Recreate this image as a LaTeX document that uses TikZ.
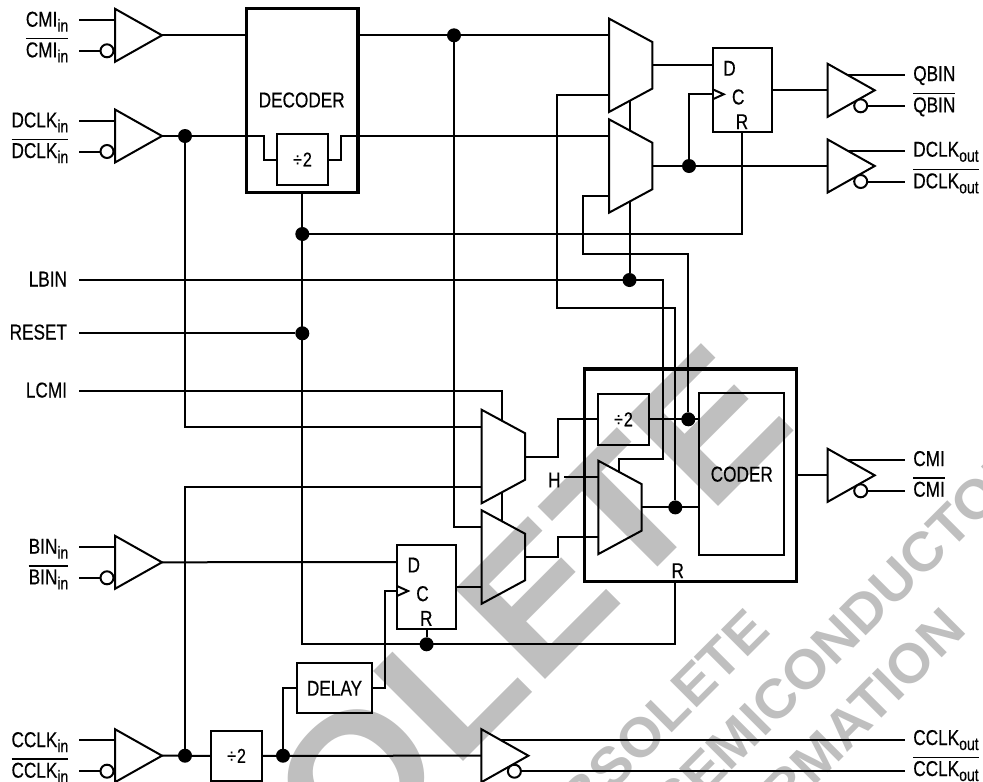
\documentclass[tikz,border=0pt]{standalone}
\usepackage{fontspec}
\setmainfont[FakeStretch=0.8,FakeBold=0.4]{Liberation Sans}
\newfontfamily\markfont[FakeStretch=1.03]{Liberation Sans}
\usetikzlibrary{calc,positioning}
\definecolor{stamp-color}{gray}{0.75}
\newcommand{\subtxt}[2]{#1\raisebox{-5pt}{\fontsize{17.5}{17.5}\selectfont #2}}
\newcommand{\bartxt}[1]{\vbox{\hrule height 1.2pt \kern 3pt \hbox{#1}}}
\newcommand{\divtxt}{\fontsize{20}{20}\selectfont ÷\kern1pt 2}
\tikzset{
  wire/.style={line width=2pt},
  box/.style 2 args={draw, rectangle, line width=2pt, inner sep=0, outer sep=0,
    minimum width=#1, minimum height=#2},
  thick-box/.style 2 args={box={#1}{#2}, line width=3.5pt},
  dot/.style={circle, fill=black, inner sep=0, outer sep=0, minimum size=14pt},
  txt/.style={inner sep=0, outer sep=0},
  in-label/.style={txt, anchor=base east},
  out-label/.style={txt, anchor=base west},
  stamp-big/.style={txt, anchor=base east, rotate=45, text=stamp-color,
    font=\markfont\bfseries\fontsize{185}{185}\selectfont},
  stamp-small/.style={stamp-big, font=\markfont\bfseries\fontsize{55}{55}\selectfont}
}
\tikzset{
  inbuf/.pic={
    \draw[wire] (0,-26.5) -- (47,0) -- (0,26.5) -- cycle;
    \coordinate (-tip) at (47,0);
    \draw[wire] (-36,-15.5) -- (0,-15.5);
    \draw[wire] (-36,15.5) -- (-14.5,15.5);
    \draw[wire] (-8,15.5) circle (6.5);
  },
  outbuf/.pic={
    \draw[wire] (0,-26.5) -- (47,0) -- (0,26.5) -- cycle;
    \draw[wire] (20,-15.5) -- (\outlen,-15.5);
    \draw[wire] (39.5,15.5) -- (\outlen,15.5);
    \draw[wire, fill=white] (33,15.5) circle (6.5);
  },
  mux/.pic={
    \draw[wire] (0,-46.7) -- (43.3,-23.3) -- (43.3,23.3) -- (0,46.7) -- cycle;
    \coordinate (-a) at (0,-30);
    \coordinate (-b) at (0,30);
    \coordinate (-y) at (43.3,0);
    \coordinate (-n) at (20.5,-35.6);
    \coordinate (-s) at (20.5,35.6);
  },
  dff/.pic={
    \node[box={59}{83.5}, anchor=north west] (-box) at (0,0) {};
    \draw[wire] (0,41.0) -- (11,46) -- (0,51);
    \node[txt] (-dl) at (16.8,20) {D};
    \node[txt] (-cl) at (25.5,48.7) {C};
    \node[txt] (-rl) at (29.3,73.4) {R};
    \coordinate (-d) at (0,17);
    \coordinate (-c) at (0,46);
    \coordinate (-q) at (59,42);
    \coordinate (-r) at (29.6,83.5);
  }
}
\begin{document}
\begin{tikzpicture}[x=1pt, y=-1pt, font=\fontsize{21.5}{21.5}\selectfont]
  \clip (0,0) rectangle (983,782);
  % grey stamp
  \node[stamp-big] (stamp) at (799,426) {OBSOLETE};
  \node[stamp-small] (stampa) at (772,633) {OBSOLETE};
  \node[stamp-small] (stampb) at (1034,468) {SEMICONDUCTOR};
  \node[stamp-small] (stampc) at (968,632) {INFORMATION};
  % buffers
  \foreach \nm/\y/\txt in {cmi/35.3/CMI, dclk/136/DCLK, bin/562.3/BIN, cclk/755.7/CCLK} {
    \pic (\nm) at (115,\y) {inbuf};
    \node[in-label] (\nm-p) at (68.3,\y-8.6) {\subtxt{\txt}{in}};
    \node[in-label] (\nm-n) at (68.3,\y+22) {\bartxt{\subtxt{\txt}{in}}};
  }
  \foreach \nm/\x/\y/\outlen in {qout/827.7/90.3/77.3, dclkout/827.7/166/77.3,
      cmiout/827.7/475.3/77.3, ccout/481.4/755.7/423.6} {
    \pic (\nm) at (\x,\y) {outbuf};
    \coordinate (\nm-in) at (\x,\y);
  }
  \node[out-label] (qp) at (913.3,81) {QBIN};
  \node[out-label] (qn) at (913.3,112.3) {\bartxt{QBIN}};
  \node[out-label] (dp) at (913.3,156.7) {\subtxt{DCLK}{out}};
  \node[out-label] (dn) at (913.3,188.3) {\bartxt{\subtxt{DCLK}{out}}};
  \node[out-label] (cp) at (913.3,466) {CMI};
  \node[out-label] (cn) at (913.3,496.7) {\bartxt{CMI}};
  \node[out-label] (ccp) at (913.3,745) {\subtxt{CCLK}{out}};
  \node[out-label] (ccn) at (913.3,776) {\bartxt{\subtxt{CCLK}{out}}};
  % blocks
  \node[thick-box={111.3}{184.2}] (decoder) at (302.3,100.6) {};
  \node[txt] (declabel) at (301.7,100) {DECODER};
  \node[box={51}{51}] (div1) at (302.5,159.5) {\divtxt};
  \node[thick-box={212}{212.7}] (coderbox) at (690.3,475.3) {};
  \node[box={85}{161.7}] (coder) at (741.8,474.2) {CODER};
  \node[box={50.4}{50.7}] (div2) at (623.5,419.3) {\divtxt};
  \node[box={50.4}{50}] (div3) at (236.6,755.8) {\divtxt};
  \node[box={75}{50}] (delay) at (334.5,688.3) {DELAY};
  \pic (ff1) at (712.7,48.3) {dff};
  \pic (ff2) at (397,545) {dff};
  \pic (mux1) at (609,65.3) {mux};
  \pic (mux2) at (609,166) {mux};
  \pic (mux3) at (481.7,456.5) {mux};
  \pic (mux4) at (481.7,557) {mux};
  \pic (mux5) at (598.3,507.4) {mux};
  \node[txt] (hlabel) at (554.3,480) {H};
  \node[txt] (rlabel) at (677.7,570.7) {R};
  % plain inputs
  \node[in-label] (lbinlab) at (67,286.5) {LBIN};
  \node[in-label] (resetlab) at (67,339.5) {RESET};
  \node[in-label] (lcmilab) at (67,397.5) {LCMI};
  \coordinate (lbin) at (79,280);
  \coordinate (reset) at (79,333.3);
  \coordinate (lcmi) at (79,390.7);
  \coordinate (hin) at (564.3,477.4);
  \coordinate (rpin) at (675.3,581.7);
  \coordinate (rbus) at (302.3,644.3);
  \coordinate (turna) at (557.3,308.3);
  \coordinate (turnb) at (583.3,254.3);
  \coordinate (turnc) at (662.7,459);
  % junctions
  \node[dot] (jdec) at (454,35.3) {};
  \node[dot] (jdclk) at (185,136) {};
  \node[dot] (jrst) at (302.3,234) {};
  \node[dot] (jreset) at (302.3,333.3) {};
  \node[dot] (jsel) at (629.5,280) {};
  \node[dot] (jclk) at (689,166) {};
  \node[dot] (jcm) at (675.3,507.4) {};
  \node[dot] (jdiv) at (688.3,419.3) {};
  \node[dot] (jff) at (ff2-r |- rbus) {};
  \node[dot] (jcclk) at (185,755.7) {};
  \node[dot] (jdiv3) at (283,755.7) {};
  % connectors
  \draw[wire] (cmi-tip) -- (decoder.west |- cmi-tip);
  \draw[wire] (decoder.east |- cmi-tip) -- (mux1-a);
  \draw[wire] (dclk-tip) -| ($(div1.west)+(-13.5,0)$) -- (div1.west);
  \draw[wire] (div1.east) -- ++(13,0) |- (mux2-a);
  \draw[wire] (jdec) |- (mux4-a);
  \draw[wire] (decoder.south) -- (rbus) -| (rpin);
  \draw[wire] (jrst) -| (ff1-r);
  \draw[wire] (reset) -- (jreset);
  \draw[wire] (lbin) -| (turnc) -| (mux5-n);
  \draw[wire] (mux1-s) -- (mux2-n);
  \draw[wire] (mux2-s) -- (jsel);
  \draw[wire] (mux1-b) -| (turna) -| (jcm);
  \draw[wire] (mux2-b) -| (turnb) -| (jdiv);
  \draw[wire] (mux5-y) -- (coder.west |- jcm);
  \draw[wire] (div2.east) -- (coder.west |- jdiv);
  \draw[wire] (mux3-y) -- ++(32.7,0) |- (div2.west);
  \draw[wire] (mux4-y) -- ++(32.7,0) |- (mux5-b);
  \draw[wire] (hin) -- (mux5-a);
  \draw[wire] (coderbox.east) -- (cmiout-in);
  \draw[wire] (mux1-y) -- (ff1-d);
  \draw[wire] (ff1-q) -- (qout-in);
  \draw[wire] (mux2-y) -- (dclkout-in);
  \draw[wire] (jclk) |- (ff1-c);
  \draw[wire] (bin-tip) -- (ff2-d);
  \draw[wire] (jdclk) |- (mux3-a);
  \draw[wire] (jcclk) |- (mux3-b);
  \draw[wire] (cclk-tip) -- (div3.west);
  \draw[wire] (div3.east) -- (ccout-in);
  \draw[wire] (jdiv3) |- (delay.west);
  \draw[wire] (delay.east) -- ++(12.5,0) |- (ff2-c);
  \draw[wire] (lcmi) -| (mux3-n);
  \draw[wire] (mux3-s) -- (mux4-n);
  \draw[wire] (ff2-q) -- (mux4-b);
  \draw[wire] (ff2-r) -- (jff);
\end{tikzpicture}
\end{document}
